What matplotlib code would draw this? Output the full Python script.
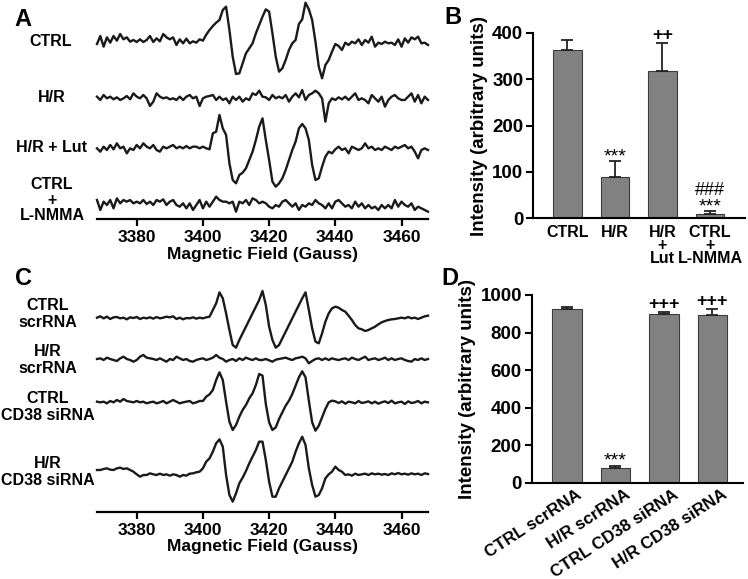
import numpy as np
import matplotlib
matplotlib.use('Agg')
import matplotlib.pyplot as plt
from matplotlib.transforms import ScaledTranslation

plt.rcParams['font.family'] = ['Liberation Sans', 'DejaVu Sans']
plt.rcParams['font.weight'] = 'bold'
plt.rcParams['axes.labelweight'] = 'bold'

# ---------------- data ----------------
FIELD = np.arange(3368, 3469)  # Gauss, 1 G steps

CTRL_A = [-5, 19, -13, 15, -1, 19, 5, 25, 9, 15,
          2, 7, 1, 9, 1, 7, 19, 1, 12, 3,
          25, 15, 9, 15, -8, 9, -3, 11, -3, 3,
          -1, 9, 5, 23, 37, 49, 59, 67, 97, 107,
          37, -43, -95, -93, -63, -33, -18, -3, 27, 52,
          77, 99, 92, 27, -43, -88, -78, -53, -23, -3,
          7, 55, 69, 119, 99, 67, 2, -73, -108, -68,
          -53, -28, -5, -11, -23, -1, -8, 2, -3, 9,
          -8, 7, -1, 17, -13, -1, -5, 2, -3, -1,
          -8, 9, -13, 12, -1, 15, 9, 17, -3, -1,
          -8]
HR_A = [5, -5, 10, 0, 5, -3, 3, -5, 0, 7,
        -3, 15, 5, 0, 10, 0, -23, -10, 15, 5,
        0, 3, -3, 0, -5, 5, -5, 5, 10, 0,
        5, -23, 0, 5, 7, 10, -5, 5, -5, 0,
        -15, 5, -5, 5, -10, 0, -5, 15, 10, 23,
        5, 3, -5, 10, 0, 5, 0, 10, -10, 5,
        15, 3, 25, -5, 10, 15, 23, 15, 0, -70,
        -15, 0, -5, 3, -3, 5, -5, 5, 15, -5,
        0, -5, -15, 10, 0, -10, 5, -25, -5, 5,
        10, 0, -5, -5, 5, 15, -10, 10, -15, 5,
        -5]
LUT_A = [0, -10, 5, -5, 10, -3, 15, 0, 5, -15,
         0, -5, 10, 0, 15, 5, 0, 10, -5, -10,
         5, 0, 5, 10, 0, 5, 0, 7, 0, 5,
         5, 0, 5, 0, -3, 45, 50, 100, 60, 40,
         -45, -95, -105, -80, -73, -60, -35, -10, 25, 65,
         90, 25, -35, -100, -115, -105, -90, -65, -35, -5,
         20, 60, 73, 60, 25, -50, -95, -90, -55, -25,
         -10, -15, -3, 5, -5, 0, -15, 5, 0, -5,
         0, 15, 0, 5, -5, 0, -5, 5, 0, -5,
         5, 0, 5, 10, 0, 5, -10, -30, -5, 0,
         -5]
LNMMA_A = [12, -18, 7, -3, 12, -13, 17, 2, 12, 7,
           12, 2, 7, 2, 12, 0, 7, -3, 12, 7,
           14, -3, 7, 12, -3, -8, 2, -13, 2, -18,
           -3, 12, -13, 7, -8, 7, 22, 12, 7, 7,
           2, 7, -23, 7, 2, 12, -3, 17, 12, 2,
           7, 2, -8, -13, -3, -8, 7, 12, 2, -8,
           2, -18, -3, -8, 2, -3, 12, 2, -3, -13,
           2, -13, 7, 12, 2, -8, -3, -13, 7, -8,
           2, -13, -3, -13, -8, -18, -3, -13, -3, -13,
           12, -8, 7, -3, -8, 2, -18, -8, -13, -18,
           -23]

CTRL_SCR = [2, 6, 0, 5, -2, 3, 4, 0, 2, -3,
            3, 1, 4, -2, 2, 0, 3, -1, 4, 0,
            2, 5, 3, 6, -2, 2, -3, 1, 0, 3,
            -1, 2, 0, 3, 5, 25, 45, 78, 60, 15,
            -35, -80, -88, -65, -45, -25, -5, 15, 35, 55,
            82, 40, -25, -65, -88, -80, -60, -40, -20, 0,
            20, 40, 60, 78, 25, -30, -70, -75, -45, -10,
            15, 30, 35, 32, 25, 20, 8, -5, -20, -30,
            -33, -38, -35, -30, -25, -18, -12, -8, -5, -3,
            -2, 0, 2, 0, 4, 0, 2, -2, 2, 6,
            8]
HR_SCR = [0, 2, -3, 4, 0, -3, -6, 2, 7, 0,
          -3, -8, -3, 7, 12, 4, 2, 0, -3, 2,
          -3, -8, 0, -3, 7, 2, -3, 0, -6, -8,
          -3, 0, 2, -3, 0, 4, 12, 4, 0, -8,
          -3, 0, -6, 2, -3, 4, 0, -3, 2, -3,
          -3, 0, -4, -8, -2, 0, 2, 4, 0, -3,
          2, 4, 7, 2, -13, -6, 0, 2, -3, 2,
          -3, 2, -1, -3, 0, 2, -3, 4, 0, -3,
          2, 7, -3, 0, 2, -3, 0, 4, -3, 2,
          -3, 0, 2, -3, -6, -8, 0, -3, 2, -3,
          0]
CTRL_CD38 = [2, 0, 2, -3, 4, 0, 7, 2, 10, 4,
             2, 0, 4, 0, 2, -3, 0, 2, -3, 0,
             4, -3, 2, 7, 2, -3, 0, 2, 4, -3,
             0, 4, 4, 17, 24, 37, 67, 90, 67, 2,
             -58, -83, -68, -43, -23, -8, 12, 27, 52, 85,
             80, -5, -60, -83, -75, -50, -30, -10, 5, 25,
             50, 75, 93, 75, 5, -60, -85, -70, -45, -20,
             0, 5, 3, -2, 3, -4, 2, 0, -3, 4,
             -2, 0, 3, -3, 2, -4, 0, 3, -2, 5,
             -3, 0, 2, -5, 3, -2, 0, 4, -3, 2,
             0]
HR_CD38 = [5, 5, 8, 10, 6, 5, 10, 12, 8, 10,
           5, 0, -8, -15, -10, -10, -5, -8, -10, -6,
           -10, -8, -12, -8, -10, -15, -10, -12, -6, -5,
           -2, 0, 10, 30, 40, 60, 85, 97, 75, -10,
           -70, -90, -65, -35, -18, 2, 25, 45, 65, 90,
           90, 35, -30, -75, -75, -50, -30, -10, 10, 30,
           60, 85, 105, 80, 10, -40, -75, -70, -50, -20,
           -8, 0, 15, 5, 0, -10, -8, -12, -6, -10,
           -8, -6, -10, -5, -8, -6, -9, -7, -10, -5,
           -8, -4, -8, -6, -9, -5, -8, -6, -10, -5,
           -7]

LABELS_A = ['CTRL', 'H/R', 'H/R + Lut', 'CTRL\n+\nL-NMMA']
LABELS_C = ['CTRL\nscrRNA', 'H/R\nscrRNA', 'CTRL\nCD38 siRNA', 'H/R\nCD38 siRNA']
FIELD_TICKS = [3380, 3400, 3420, 3440, 3460]

B_CATS = ['CTRL', 'H/R', 'H/R\n+\nLut', 'CTRL\n+\nL-NMMA']
B_VALS = [362, 88, 318, 9]
B_ERRS = [23, 35, 60, 6]
B_TICKS = [0, 100, 200, 300, 400]

D_CATS = ['CTRL scrRNA', 'H/R scrRNA', 'CTRL CD38 siRNA', 'H/R CD38 siRNA']
D_VALS = [924, 77, 897, 893]
D_ERRS = [10, 14, 14, 32]
D_TICKS = [0, 200, 400, 600, 800, 1000]

# ---------------- layout helpers ----------------
W, H = 748, 579
fig = plt.figure(figsize=(W / 100, H / 100), dpi=100)


def rect(l, t, r, b):
    return [l / W, 1 - b / H, (r - l) / W, (b - t) / H]


def ftext(x, y, s, **kw):
    fig.text(x / W, 1 - y / H, s, **kw)


LW = 1.7
LBL = 11.5


def spectra_axes(top, bottom, traces, offsets):
    ax = fig.add_axes(rect(97, top, 428, bottom))
    for tr, off in zip(traces, offsets):
        ax.plot(FIELD, np.asarray(tr) - off, color='#1a1a1a', lw=LW,
                solid_joinstyle='round', clip_on=False)
    ax.set_xlim(3368, 3468)
    ax.set_ylim(-(bottom - top) * 3, 0)
    for s in ['left', 'right', 'top']:
        ax.spines[s].set_visible(False)
    ax.spines['bottom'].set_linewidth(1.6)
    ax.set_yticks([])
    ax.set_xticks(FIELD_TICKS)
    ax.tick_params(axis='x', direction='out', length=5, width=1.6, labelsize=12.5, pad=3)
    ax.set_xlabel('Magnetic Field (Gauss)', fontsize=12.5, fontweight='bold', labelpad=1)
    ax.patch.set_alpha(0)
    return ax


# Panel A
spectra_axes(0, 219, [CTRL_A, HR_A, LUT_A, LNMMA_A], [127, 295, 445, 612])
ftext(51, 42, LABELS_A[0], ha='center', va='center', fontsize=LBL)
ftext(52, 98, LABELS_A[1], ha='center', va='center', fontsize=LBL)
ftext(52, 148, LABELS_A[2], ha='center', va='center', fontsize=LBL)
ftext(52, 200, LABELS_A[3], ha='center', va='center', fontsize=LBL, linespacing=1.05)

# Panel C
spectra_axes(288, 512, [CTRL_SCR, HR_SCR, CTRL_CD38, HR_CD38], [91, 213, 343, 551])
for lab, yy in zip(LABELS_C, [314, 360, 407, 472]):
    ftext(48, yy, lab, ha='center', va='center', fontsize=LBL, linespacing=1.1)

# Panel letters
for let, (x, y) in zip('ABCD', [(23, 20), (453, 18), (23, 278), (450, 279)]):
    ftext(x, y, let, ha='center', va='center', fontsize=17, fontweight='bold')

BAR_FC = '#818181'
BAR_EC = '#3c3c3c'


def bar_axes(l, t, r, b, xl, cats, vals, errs, ticks, ymax):
    ax = fig.add_axes(rect(l, t, r, b))
    x = np.arange(len(cats))
    ax.bar(x, vals, width=0.6, color=BAR_FC, edgecolor=BAR_EC, linewidth=0.8, zorder=2)
    ax.errorbar(x, vals, yerr=[np.zeros(len(vals)), errs], fmt='none', ecolor='#222222',
                elinewidth=1.3, capsize=4.5, capthick=1.3, zorder=3, clip_on=False)
    ax.set_xlim(*xl)
    ax.set_ylim(0, ymax)
    ax.set_yticks(ticks)
    for s in ['right', 'top']:
        ax.spines[s].set_visible(False)
    for s in ['left', 'bottom']:
        ax.spines[s].set_linewidth(1.5)
    ax.tick_params(axis='y', direction='out', length=5, width=1.5, labelsize=13.5, pad=2)
    ax.set_ylabel('Intensity (arbitrary units)', fontsize=13.5, fontweight='bold', labelpad=3)
    ax.patch.set_alpha(0)
    return ax, x


# Panel B
axB, xB = bar_axes(533, 32.7, 745, 218.3, (-0.726, 3.737), B_CATS, B_VALS, B_ERRS, B_TICKS, 400)
axB.set_xticks(xB)
axB.set_xticklabels(B_CATS, fontsize=11.5, linespacing=0.82)
axB.tick_params(axis='x', length=0, pad=5)
tops = [v + e for v, e in zip(B_VALS, B_ERRS)]
axB.annotate('***', (1, tops[1]), xytext=(0, -3), textcoords='offset points',
             ha='center', va='bottom', fontsize=14, fontweight='normal')
axB.annotate('++', (2, tops[2]), xytext=(0, -1), textcoords='offset points',
             ha='center', va='bottom', fontsize=13, fontweight='bold')
axB.annotate('***', (3, tops[3]), xytext=(0, -3), textcoords='offset points',
             ha='center', va='bottom', fontsize=14, fontweight='normal')
axB.annotate('###', (3, tops[3]), xytext=(0, 9), textcoords='offset points',
             ha='center', va='bottom', fontsize=13, fontweight='normal')

# Panel D
axD, xD = bar_axes(531.7, 295, 743, 482.7, (-0.728, 3.63), D_CATS, D_VALS, D_ERRS, D_TICKS, 1000)
axD.set_xticks(xD)
labs = axD.set_xticklabels(D_CATS, fontsize=12.2, rotation=33, ha='right', rotation_mode='anchor')
axD.tick_params(axis='x', length=0, pad=3)
for lb in labs:
    lb.set_transform(lb.get_transform() + ScaledTranslation(9 / 100, 0, fig.dpi_scale_trans))
topsD = [v + e for v, e in zip(D_VALS, D_ERRS)]
axD.annotate('***', (1, topsD[1]), xytext=(0, -3), textcoords='offset points',
             ha='center', va='bottom', fontsize=14, fontweight='normal')
for xi in [2, 3]:
    axD.annotate('+++', (xi, topsD[xi]), xytext=(0, -1), textcoords='offset points',
                 ha='center', va='bottom', fontsize=13, fontweight='bold')

fig.savefig('out.png', dpi=100)
